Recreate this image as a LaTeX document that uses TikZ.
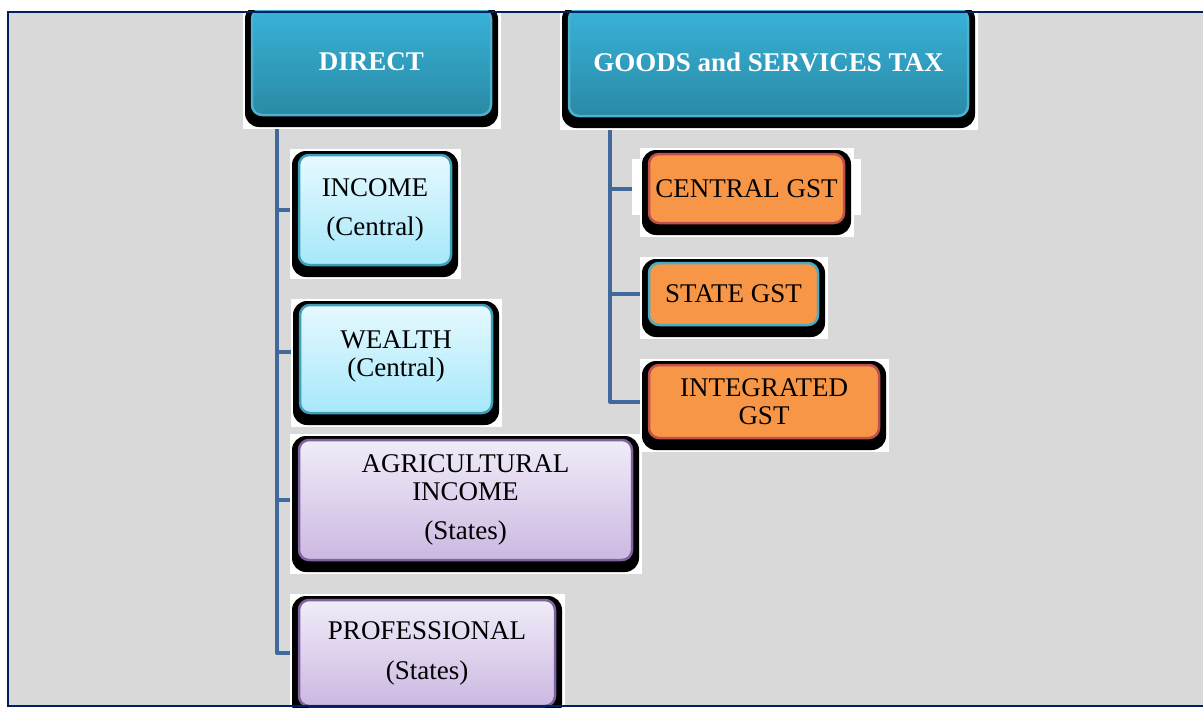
\documentclass[tikz,border=0pt]{standalone}
\usepackage{fontspec}
\setmainfont{Liberation Serif}
\pgfdeclarelayer{bg}
\pgfdeclarelayer{conn}
\pgfdeclarelayer{shade}
\pgfdeclarelayer{front}
\pgfsetlayers{bg,conn,shade,main,front}
\definecolor{frameFill}{HTML}{D9D9D9}
\definecolor{frameEdge}{HTML}{002060}
\definecolor{topA}{HTML}{38B2D8}
\definecolor{topB}{HTML}{2A8AA5}
\definecolor{topEdge}{HTML}{4FB0CF}
\definecolor{cyA}{HTML}{E6F9FF}
\definecolor{cyB}{HTML}{A6E8FA}
\definecolor{cyEdge}{HTML}{3F9FB8}
\definecolor{puA}{HTML}{F0ECF8}
\definecolor{puB}{HTML}{CCB8E2}
\definecolor{puEdge}{HTML}{7F63A0}
\definecolor{orFill}{HTML}{F79646}
\definecolor{orEdge}{HTML}{C0504D}
\definecolor{stEdge}{HTML}{4BACC6}
\definecolor{connC}{HTML}{41699B}
\newcommand\boxshadow[1]{%
  \fill[white] ([shift={(-9.5,-6)}]#1.north west) rectangle ([shift={(9.5,14)}]#1.south east);
  \fill[black, rounded corners=14pt] ([shift={(-7,-4)}]#1.north west) rectangle ([shift={(7,12)}]#1.south east);
}
\begin{document}
\begin{tikzpicture}[x=1pt,y=-1pt,
  box/.style={rounded corners=10pt, inner sep=0pt, outer sep=0pt, align=center,
    font=\fontsize{27}{28}\selectfont, line width=2.5pt},
  topbox/.style={box, top color=topA, bottom color=topB, draw=topEdge, text=white,
    font=\fontsize{27}{28}\selectfont\bfseries},
  cyanbox/.style={box, top color=cyA, bottom color=cyB, draw=cyEdge},
  purpbox/.style={box, top color=puA, bottom color=puB, draw=puEdge},
  orbox/.style={box, fill=orFill, draw=orEdge},
  conn/.style={draw=connC, line width=4pt, line join=round},
]
\useasboundingbox (0,0) rectangle (1203,709);
\begin{pgfonlayer}{bg}
  \fill[frameFill] (8,12) rectangle (1215,706);
\end{pgfonlayer}

% nodes
\node[topbox, minimum width=239pt, minimum height=106pt] (direct) at (371.5,62) {DIRECT};
\node[topbox, minimum width=399pt, minimum height=107pt] (gst) at (768.5,62.5) {GOODS and SERVICES TAX};

\node[cyanbox, minimum width=152pt, minimum height=110pt] (income) at (375,210) {INCOME\\[11pt](Central)};
\node[cyanbox, minimum width=192pt, minimum height=108pt] (wealth) at (396,359) {WEALTH\\(Central)\\[-17pt]\mbox{}};
\node[purpbox, minimum width=333pt, minimum height=120pt] (agri) at (465.5,500) {AGRICULTURAL\\INCOME\\[11pt](States)};
\node[purpbox, minimum width=256pt, minimum height=106pt] (prof) at (427,653) {PROFESSIONAL\\[12pt](States)};

\node[orbox, minimum width=195pt, minimum height=69pt] (central) at (746.5,188.5) {CENTRAL GST};
\node[orbox, draw=stEdge, minimum width=169pt, minimum height=62pt] (state) at (733.5,294) {STATE GST};
\node[orbox, minimum width=230pt, minimum height=73pt] (integ) at (764,401.5) {INTEGRATED\\GST};

% shadows and white backgrounds
\begin{pgfonlayer}{shade}
  \boxshadow{direct}
  \boxshadow{gst}
  \boxshadow{income}
  \boxshadow{wealth}
  \boxshadow{agri}
  \boxshadow{prof}
  \fill[white] ([shift={(-17,5)}]central.north west) rectangle ([shift={(17,-8)}]central.south east);
  \boxshadow{central}
  \boxshadow{state}
  \boxshadow{integ}
\end{pgfonlayer}

% connectors
\begin{pgfonlayer}{conn}
  \draw[conn] ([xshift=25pt]direct.south west) |- (prof.west);
  \draw[conn] ([xshift=25pt]direct.south west) |- (income.west);
  \draw[conn] ([xshift=25pt]direct.south west) |- ([yshift=7pt]wealth.west);
  \draw[conn] ([xshift=25pt]direct.south west) |- (agri.west);
  \draw[conn] ([xshift=41pt]gst.south west) |- (integ.west);
  \draw[conn] ([xshift=41pt]gst.south west) |- (central.west);
  \draw[conn] ([xshift=41pt]gst.south west) |- (state.west);
\end{pgfonlayer}

\begin{pgfonlayer}{front}
  \fill[white] (0,0) rectangle (1203,10.5);
  \fill[white] (0,707.5) rectangle (1203,709);
  \draw[frameEdge, line width=2.8pt] (1215,12) -- (8,12) -- (8,706) -- (1215,706);
\end{pgfonlayer}
\end{tikzpicture}
\end{document}
